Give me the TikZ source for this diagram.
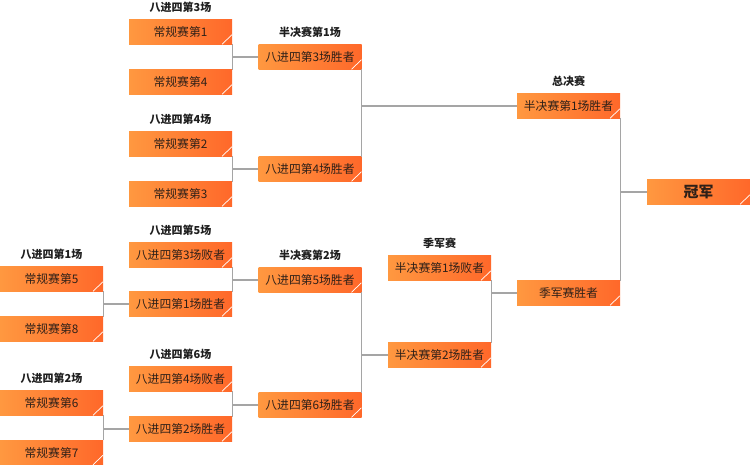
\documentclass[tikz,border=0pt]{standalone}
\usepackage{fontspec}
\usepackage{tikz}
\usepackage{xcolor}
\usetikzlibrary{positioning, calc}
\newfontfamily\cjk{Noto Sans CJK SC}
\definecolor{BoxLeft}{HTML}{FF9840}
\definecolor{BoxRight}{HTML}{FF682A}
\definecolor{WireGray}{HTML}{A5A5A5}
\definecolor{BoxInk}{HTML}{2E2018}
\definecolor{HeadInk}{HTML}{1E1E1E}

\begin{document}
\begin{tikzpicture}[x=1pt, y=-1pt, font=\cjk\fontsize{11.8}{13}\selectfont,
  match/.style={shade, left color=BoxLeft, right color=BoxRight, text=BoxInk,
    minimum width=103pt, minimum height=24.5pt, inner sep=0pt,
    path picture={\draw[white, line width=0.7pt]
      ([xshift=-10pt]path picture bounding box.south east) --
      ([yshift=9.5pt]path picture bounding box.south east);}},
  stage/.style={font=\cjk\bfseries\fontsize{11}{13}\selectfont, text=HeadInk, inner sep=0pt},
  wire/.style={draw=WireGray, line width=1.4pt}]
\useasboundingbox (0,0) rectangle (750,466);

\def\cA{51.5}
\def\cB{180.5}
\def\cC{310}
\def\cD{439.5}
\def\cE{568.5}
\def\cF{698.5}

% round of sixteen
\node[match] (r5) at (\cA,279) {常规赛第5};
\node[match] (r8) at (\cA,329) {常规赛第8};
\node[match] (r6) at (\cA,403) {常规赛第6};
\node[match] (r7) at (\cA,452.5) {常规赛第7};
\node[stage, above=7pt of r5] (q1) {八进四第1场};
\node[stage, above=7pt of r6] (q2) {八进四第2场};

\node[match] (r1) at (\cB,32) {常规赛第1};
\node[match] (r4) at (\cB,82) {常规赛第4};
\node[match] (r2) at (\cB,144) {常规赛第2};
\node[match] (r3) at (\cB,194) {常规赛第3};
\node[match] (l3) at (\cB,255) {八进四第3场败者};
\node[match] (w1) at (\cB,304) {八进四第1场胜者};
\node[match] (l4) at (\cB,379) {八进四第4场败者};
\node[match] (w2) at (\cB,429) {八进四第2场胜者};
\node[stage, above=7pt of r1] (q3) {八进四第3场};
\node[stage, above=7pt of r2] (q4) {八进四第4场};
\node[stage, above=7pt of l3] (q5) {八进四第5场};
\node[stage, above=7pt of l4] (q6) {八进四第6场};

% semi finals
\node[match] (w3) at (\cC,57) {八进四第3场胜者};
\node[match] (w4) at (\cC,169) {八进四第4场胜者};
\node[match] (w5) at (\cC,280) {八进四第5场胜者};
\node[match] (w6) at (\cC,405) {八进四第6场胜者};
\node[stage, above=7pt of w3] (s1) {半决赛第1场};
\node[stage, above=7pt of w5] (s2) {半决赛第2场};

\node[match] (sl1) at (\cD,268) {半决赛第1场败者};
\node[match] (sw2) at (\cD,355) {半决赛第2场胜者};
\node[stage, above=7pt of sl1] (third) {季军赛};

% finals
\node[match] (sw1) at (\cE,106) {半决赛第1场胜者};
\node[match] (tw) at (\cE,293) {季军赛胜者};
\node[stage, above=7pt of sw1] (final) {总决赛};

\node[match, font=\cjk\bfseries\fontsize{15}{17}\selectfont] (champ) at (\cF,192) {冠军};

% connectors
\draw[wire] (r5.south east) -- (r8.north east);
\draw[wire] (w1.west) -- (w1.west -| r5.east);
\draw[wire] (r6.south east) -- (r7.north east);
\draw[wire] (w2.west) -- (w2.west -| r6.east);

\draw[wire] (r1.south east) -- (r4.north east);
\draw[wire] (w3.west) -- (w3.west -| r1.east);
\draw[wire] (r2.south east) -- (r3.north east);
\draw[wire] (w4.west) -- (w4.west -| r2.east);
\draw[wire] (l3.south east) -- (w1.north east);
\draw[wire] (w5.west) -- (w5.west -| l3.east);
\draw[wire] (l4.south east) -- (w2.north east);
\draw[wire] (w6.west) -- (w6.west -| l4.east);

\draw[wire] (w3.south east) -- (w4.north east);
\draw[wire] (sw1.west) -- (sw1.west -| w3.east);
\draw[wire] (w5.south east) -- (w6.north east);
\draw[wire] (sw2.west) -- (sw2.west -| w5.east);

\draw[wire] (sl1.south east) -- (sw2.north east);
\draw[wire] (tw.west) -- (tw.west -| sl1.east);

\draw[wire] (sw1.south east) -- (tw.north east);
\draw[wire] (champ.west) -- (champ.west -| sw1.east);
\end{tikzpicture}
\end{document}
